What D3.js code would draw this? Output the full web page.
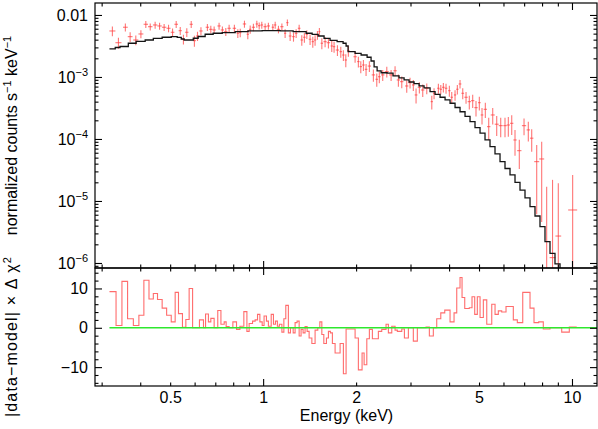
<!DOCTYPE html>
<html lang="en">
<head>
<meta charset="utf-8">
<title>spectrum fit</title>
<script src="https://d3js.org/d3.v7.min.js"></script>
<style>
  body { margin: 0; background: #fff; }
  text { font-family: "Liberation Sans", Arial, Helvetica, sans-serif; fill: #000; }
</style>
</head>
<body>
<script>

// data points (keV, counts/s/keV, 1-sigma error)
var dataE = [0.325,0.340,0.358,0.371,0.387,0.402,0.417,0.431,0.447,0.462,
  0.478,0.494,0.509,0.523,0.539,0.552,0.566,0.585,0.599,0.613,
  0.629,0.660,0.677,0.694,0.720,0.738,0.757,0.776,0.807,0.828,
  0.843,0.870,0.892,0.908,0.930,0.954,0.971,0.990,1.015,1.040,
  1.075,1.094,1.121,1.150,1.178,1.198,1.223,1.254,1.279,1.308,
  1.334,1.360,1.385,1.419,1.448,1.473,1.499,1.521,1.549,1.587,
  1.627,1.668,1.697,1.740,1.784,1.819,1.852,1.888,1.985,2.034,
  2.071,2.112,2.154,2.208,2.275,2.333,2.378,2.439,2.514,2.596,
  2.674,2.741,2.811,2.917,2.990,3.064,3.127,3.205,3.287,3.387,
  3.516,3.576,3.693,3.760,3.833,3.910,4.008,4.080,4.182,4.254,
  4.340,4.429,4.539,4.651,4.770,4.889,5.012,5.113,5.241,5.375,
  5.538,5.705,5.878,6.069,6.221,6.381,6.539,6.752,6.994,7.221,
  7.406,7.687,7.978,8.28,8.65,9.03,10.05];

var dataY = [5.52e-3,3.57e-3,6.34e-3,4.47e-3,3.95e-3,4.94e-3,7.08e-3,6.47e-3,6.90e-3,6.65e-3,
  6.34e-3,6.10e-3,5.26e-3,7.08e-3,5.58e-3,4.06e-3,5.26e-3,7.08e-3,3.85e-3,4.58e-3,
  5.52e-3,6.34e-3,5.87e-3,5.73e-3,6.65e-3,5.73e-3,5.38e-3,6.10e-3,6.10e-3,5.07e-3,
  5.19e-3,7.16e-3,4.89e-3,5.87e-3,6.34e-3,7.16e-3,6.72e-3,6.90e-3,6.47e-3,6.65e-3,
  6.34e-3,6.90e-3,5.87e-3,6.47e-3,5.07e-3,7.52e-3,4.58e-3,4.47e-3,5.07e-3,6.10e-3,
  3.95e-3,4.37e-3,4.89e-3,4.06e-3,3.71e-3,3.95e-3,4.76e-3,5.38e-3,3.50e-3,3.71e-3,
  3.57e-3,3.16e-3,3.08e-3,2.72e-3,2.56e-3,2.26e-3,1.88e-3,2.65e-3,2.12e-3,1.77e-3,
  1.47e-3,1.56e-3,1.33e-3,1.50e-3,1.08e-3,9.18e-4,1.01e-3,1.08e-3,1.22e-3,1.08e-3,
  1.26e-3,8.95e-4,8.40e-4,7.16e-4,8.09e-4,7.43e-4,5.13e-4,6.82e-4,6.17e-4,6.58e-4,
  4.00e-4,5.46e-4,6.58e-4,6.34e-4,6.82e-4,6.58e-4,6.01e-4,4.71e-4,5.13e-4,6.34e-4,
  7.71e-4,5.46e-4,4.71e-4,4.00e-4,4.15e-4,3.20e-4,3.85e-4,2.44e-4,3.01e-4,1.58e-4,
  2.44e-4,1.73e-4,1.64e-4,1.64e-4,1.68e-4,1.79e-4,9.64e-5,6.48e-5,1.64e-4,1.40e-4,
  1.03e-4,4.31e-5,4.76e-5,5.0e-7,1.22e-6,2.72e-6,7.16e-6];

var dataErr = [9.9e-4,7.1e-4,9.5e-4,8.0e-4,7.1e-4,7.4e-4,9.2e-4,8.4e-4,9.0e-4,8.6e-4,
  8.2e-4,8.5e-4,7.9e-4,9.2e-4,8.4e-4,7.3e-4,8.4e-4,9.2e-4,7.7e-4,7.8e-4,
  8.3e-4,8.2e-4,8.2e-4,8.0e-4,8.6e-4,8.0e-4,8.1e-4,8.5e-4,8.5e-4,8.1e-4,
  8.3e-4,9.3e-4,8.3e-4,8.8e-4,8.9e-4,9.3e-4,8.7e-4,9.0e-4,8.4e-4,8.6e-4,
  8.2e-4,9.0e-4,8.2e-4,8.4e-4,8.1e-4,9.0e-4,7.8e-4,7.6e-4,8.1e-4,8.5e-4,
  7.5e-4,7.9e-4,7.8e-4,7.7e-4,7.4e-4,7.5e-4,7.6e-4,8.1e-4,7.0e-4,7.0e-4,
  6.8e-4,6.3e-4,6.2e-4,5.4e-4,5.1e-4,4.5e-4,4.5e-4,5.3e-4,4.2e-4,3.5e-4,
  3.2e-4,3.1e-4,2.9e-4,3.0e-4,2.4e-4,2.2e-4,2.2e-4,2.2e-4,2.4e-4,2.2e-4,
  2.3e-4,2.0e-4,1.8e-4,1.6e-4,1.6e-4,1.5e-4,1.4e-4,1.4e-4,1.4e-4,1.3e-4,
  1.0e-4,1.1e-4,1.2e-4,1.1e-4,1.2e-4,1.2e-4,1.2e-4,1.0e-4,1.0e-4,1.1e-4,
  1.2e-4,1.1e-4,1.0e-4,1.0e-4,1.0e-4,9.0e-5,9.6e-5,7.3e-5,8.4e-5,6.3e-5,
  7.3e-5,6.1e-5,5.7e-5,5.7e-5,5.9e-5,6.3e-5,4.3e-5,3.2e-5,4.9e-5,4.9e-5,
  4.1e-5,3.7e-5,4.3e-5,1.65e-5,2.07e-5,1.66e-5,1.91e-5];

// folded model (step)
var modelE = [0.318,0.332,0.344,0.366,0.388,0.415,0.441,0.471,0.504,0.527,
  0.543,0.555,0.576,0.594,0.616,0.649,0.689,0.737,0.812,0.894,
  0.993,1.135,1.251,1.378,1.441,1.507,1.575,1.647,1.736,1.815,
  1.856,1.884,1.985,2.076,2.171,2.236,2.287,2.339,2.410,2.520,
  2.634,2.755,2.860,2.968,3.081,3.198,3.319,3.471,3.603,3.740,
  3.882,4.029,4.182,4.340,4.505,4.676,4.853,5.038,5.229,5.427,
  5.633,5.848,6.069,6.300,6.539,6.787,7.045,7.313,7.590,7.878,
  8.177,8.488,8.810,9.146];
var modelY = [2.83e-3,2.99e-3,3.10e-3,3.50e-3,3.74e-3,3.95e-3,4.18e-3,4.37e-3,4.47e-3,4.34e-3,
  4.10e-3,3.95e-3,3.95e-3,4.21e-3,4.50e-3,4.89e-3,5.07e-3,5.19e-3,5.38e-3,5.52e-3,
  5.58e-3,5.52e-3,5.38e-3,5.07e-3,4.85e-3,4.58e-3,4.18e-3,3.88e-3,3.71e-3,3.50e-3,
  3.16e-3,2.56e-3,2.41e-3,2.26e-3,2.08e-3,1.81e-3,1.45e-3,1.25e-3,1.17e-3,1.15e-3,
  1.04e-3,9.64e-4,8.95e-4,8.30e-4,7.80e-4,7.16e-4,6.65e-4,5.80e-4,5.26e-4,4.71e-4,
  4.26e-4,3.77e-4,3.22e-4,2.75e-4,2.31e-4,1.90e-4,1.53e-4,1.24e-4,9.64e-5,7.52e-5,
  5.73e-5,4.31e-5,3.34e-5,2.63e-5,1.99e-5,1.50e-5,1.12e-5,8.09e-6,5.73e-6,3.85e-6,
  2.21e-6,1.43e-6,9.64e-7,7.16e-7];

// residual bins: lower edges (+ last upper edge) and values
var resE = [0.318,0.334,0.349,0.364,0.380,0.396,0.411,0.427,0.441,0.455,
  0.471,0.487,0.504,0.519,0.532,0.548,0.562,0.576,0.591,0.622,
  0.641,0.651,0.665,0.677,0.694,0.713,0.730,0.748,0.759,0.776,
  0.798,0.820,0.841,0.866,0.886,0.901,0.924,0.942,0.959,0.976,
  0.993,1.007,1.025,1.040,1.062,1.080,1.096,1.112,1.129,1.150,
  1.167,1.184,1.207,1.226,1.251,1.269,1.288,1.308,1.327,1.347,
  1.367,1.388,1.409,1.438,1.473,1.503,1.526,1.549,1.572,1.603,
  1.627,1.651,1.676,1.710,1.775,1.819,1.856,1.985,2.034,2.091,
  2.123,2.166,2.208,2.258,2.361,2.421,2.500,2.544,2.609,2.674,
  2.720,2.811,2.867,2.953,3.064,3.157,3.369,3.453,3.557,3.648,
  3.760,3.873,4.029,4.151,4.235,4.340,4.406,4.495,4.651,4.746,
  4.842,4.937,5.039,5.164,5.297,5.498,5.635,5.774,5.922,6.115,
  6.457,6.653,6.927,7.313,7.534,7.802,8.074,8.488,9.262,9.802,
  10.36];
var resY = [9.2,0.6,11.8,2.3,0.6,3.2,12.1,7.3,8.7,7.2,
  5.0,3.2,1.5,9.0,3.6,0.1,2.1,10.0,0,2.0,
  0,3.5,1.5,2.4,0,4.4,0.9,1.5,0.3,0,
  1.5,-0.4,0.4,4.1,-0.9,1.1,1.7,2.0,3.4,1.5,
  0.6,3.0,1.7,0.4,3.4,0.9,1.7,0.4,0.9,-1.1,
  2.3,5.7,-1.3,0,-1.3,1.3,1.7,-2.1,-0.4,-1.3,
  0.3,-0.9,-2.6,-4.0,-0.6,0,1.5,-1.7,-4.0,-2.6,
  -0.9,-1.3,-4.0,-6.4,-4.0,-11.7,-0.3,-2.6,-10.7,-6.4,
  -9.4,-2.8,-0.4,-2.8,-0.9,-0.4,0.9,-1.3,0.4,-0.6,
  -0.9,-0.3,-2.6,0,-3.4,0,0.2,-2.1,0,2.3,
  3.8,4.5,1.5,3.8,10.1,12.8,7.7,4.9,5.1,7.9,
  3.4,7.9,2.6,7.1,0.9,6.0,3.4,4.3,4.0,5.4,
  2.0,1.3,9.0,5.0,1.3,1.5,-0.3,0,-1.1,0.2];

var xLabelVals = [0.5, 1, 2, 5, 10];
var xMajor = [1, 10];
var xMinor = [0.3,0.4,0.5,0.6,0.7,0.8,0.9,2,3,4,5,6,7,8,9];
var yTopTicks = [1e-2, 1e-3, 1e-4, 1e-5, 1e-6];
var yTopExp = ["", "\u22123", "\u22124", "\u22125", "\u22126"];
var yResMajor = [-10, 0, 10];
var yResMinor = [-14,-12,-8,-6,-4,-2,2,4,6,8,12,14];


var width = 598, height = 429;
var L = 95, R = 597, T = 3, M = 268, B = 386;

var svg = d3.select("body").append("svg")
  .attr("width", width)
  .attr("height", height);

var x = d3.scaleLog().domain([0.2855, 12.05]).range([L, R]);
var yTop = d3.scaleLog().domain([8.3e-7, 0.0156]).range([M, T]);
var yRes = d3.scaleLinear().domain([-14.8, 15.2]).range([B, M]);
var yMin = yTop.domain()[0];

var defs = svg.append("defs");
defs.append("clipPath").attr("id", "cTop").append("rect")
  .attr("x", L).attr("y", T).attr("width", R - L).attr("height", M - T);
defs.append("clipPath").attr("id", "cRes").append("rect")
  .attr("x", L).attr("y", M).attr("width", R - L).attr("height", B - M);

// ---- top panel: data crosses
var gData = svg.append("g").attr("clip-path", "url(#cTop)")
  .attr("stroke", "#ff3b3b").attr("stroke-opacity", 0.7).attr("stroke-width", 1.1);

var maxHalf = 4.5 / (x(10) - x(1)); // cap in decades for isolated bins
dataE.forEach(function(e, i) {
  var hl = i > 0 ? Math.log10(e / dataE[i - 1]) / 2 : null;
  var hr = i < dataE.length - 1 ? Math.log10(dataE[i + 1] / e) / 2 : null;
  var h = hl == null ? hr : (hr == null ? hl : Math.min(hl, hr));
  h = Math.min(h, maxHalf);
  var v = dataY[i], s = dataErr[i];
  gData.append("line")
    .attr("x1", x(e / Math.pow(10, h))).attr("x2", x(e * Math.pow(10, h)))
    .attr("y1", yTop(Math.max(v, yMin * 0.5))).attr("y2", yTop(Math.max(v, yMin * 0.5)));
  gData.append("line")
    .attr("x1", x(e)).attr("x2", x(e))
    .attr("y1", yTop(v + s)).attr("y2", yTop(Math.max(v - s, yMin * 0.5)));
});

// ---- top panel: model step
var modelPts = modelE.map(function(e, i) { return [e, modelY[i]]; });
svg.append("path")
  .datum(modelPts)
  .attr("clip-path", "url(#cTop)")
  .attr("fill", "none")
  .attr("stroke", "#151515")
  .attr("stroke-width", 1.3)
  .attr("d", d3.line()
    .x(function(d) { return x(d[0]); })
    .y(function(d) { return yTop(d[1]); })
    .curve(d3.curveStepAfter));

// ---- bottom panel: residual step + zero line
var resPts = resY.map(function(r, i) { return [resE[i], r]; });
resPts.push([resE[resE.length - 1], resY[resY.length - 1]]);
svg.append("path")
  .datum(resPts)
  .attr("clip-path", "url(#cRes)")
  .attr("fill", "none")
  .attr("stroke", "#ff3b3b")
  .attr("stroke-opacity", 0.75)
  .attr("stroke-width", 1.1)
  .attr("d", d3.line()
    .x(function(d) { return x(d[0]); })
    .y(function(d) { return yRes(d[1]); })
    .curve(d3.curveStepAfter));

svg.append("line")
  .attr("x1", x(resE[0])).attr("x2", R)
  .attr("y1", yRes(0)).attr("y2", yRes(0))
  .attr("stroke", "#2ee82e").attr("stroke-width", 1.6);

// ---- frames
svg.append("rect").attr("x", L).attr("y", T).attr("width", R - L).attr("height", M - T)
  .attr("fill", "none").attr("stroke", "#000").attr("stroke-width", 1.2);
svg.append("rect").attr("x", L).attr("y", M).attr("width", R - L).attr("height", B - M)
  .attr("fill", "none").attr("stroke", "#000").attr("stroke-width", 1.2);

// ---- ticks (all pointing inward)
function tickAxis(axis, tx, ty, vals, len) {
  svg.append("g")
    .attr("transform", "translate(" + tx + "," + ty + ")")
    .call(axis.tickValues(vals).tickSize(-len).tickFormat(""))
    .call(function(g) { g.select(".domain").remove(); })
    .selectAll("line").attr("stroke", "#000").attr("stroke-width", 1.1);
}
[[d3.axisTop, T], [d3.axisBottom, M], [d3.axisTop, M], [d3.axisBottom, B]].forEach(function(a) {
  tickAxis(a[0](x), 0, a[1], xMajor, 7);
  tickAxis(a[0](x), 0, a[1], xMinor, 3.5);
});

var yTopMinor = [];
[-7, -6, -5, -4, -3, -2].forEach(function(p) {
  for (var k = 2; k < 10; k++) {
    var v = k * Math.pow(10, p);
    if (v > yMin && v < yTop.domain()[1]) yTopMinor.push(v);
  }
});
tickAxis(d3.axisLeft(yTop), L, 0, yTopTicks, 7);
tickAxis(d3.axisLeft(yTop), L, 0, yTopMinor, 3.5);
tickAxis(d3.axisRight(yTop), R, 0, yTopTicks, 7);
tickAxis(d3.axisRight(yTop), R, 0, yTopMinor, 3.5);
tickAxis(d3.axisLeft(yRes), L, 0, yResMajor, 7);
tickAxis(d3.axisLeft(yRes), L, 0, yResMinor, 3.5);
tickAxis(d3.axisRight(yRes), R, 0, yResMajor, 7);
tickAxis(d3.axisRight(yRes), R, 0, yResMinor, 3.5);

// ---- tick labels
svg.append("g")
  .attr("transform", "translate(0," + B + ")")
  .call(d3.axisBottom(x).tickValues(xLabelVals).tickSize(0).tickPadding(6)
    .tickFormat(function(d) { return String(d); }))
  .call(function(g) { g.select(".domain").remove(); })
  .selectAll("text").attr("font-size", 16).attr("font-family", null);

svg.append("g")
  .attr("transform", "translate(" + L + ",0)")
  .call(d3.axisLeft(yRes).tickValues(yResMajor).tickSize(0).tickPadding(7)
    .tickFormat(function(d) { return d < 0 ? "\u2212" + (-d) : String(d); }))
  .call(function(g) { g.select(".domain").remove(); })
  .selectAll("text").attr("font-size", 16).attr("font-family", null);

var gLab = svg.append("g").attr("font-size", 16).attr("text-anchor", "end");
yTopTicks.forEach(function(v, i) {
  var t = gLab.append("text").attr("x", L - 7).attr("y", yTop(v)).attr("dy", "0.36em");
  if (yTopExp[i] === "") {
    t.text("0.01");
  } else {
    t.append("tspan").text("10");
    t.append("tspan").attr("font-size", 11).attr("dy", -7).text(yTopExp[i]);
  }
});

// ---- axis titles
svg.append("text")
  .attr("x", (L + R) / 2 + 0.5).attr("y", 421)
  .attr("text-anchor", "middle").attr("font-size", 16)
  .text("Energy (keV)");

var t1 = svg.append("text")
  .attr("transform", "translate(17," + ((T + M) / 2) + ") rotate(-90)")
  .attr("text-anchor", "middle").attr("font-size", 16);
t1.append("tspan").text("normalized counts s");
t1.append("tspan").attr("font-size", 11).attr("dy", -6).text("\u22121");
t1.append("tspan").attr("dy", 6).text(" keV");
t1.append("tspan").attr("font-size", 11).attr("dy", -6).text("\u22121");

var t2 = svg.append("text")
  .attr("transform", "translate(17," + 337 + ") rotate(-90)")
  .attr("text-anchor", "middle").attr("font-size", 16)
  .attr("textLength", 160).attr("lengthAdjust", "spacing");
t2.append("tspan").text("|data\u2212model| \u00d7 \u0394 \u03c7");
t2.append("tspan").attr("font-size", 11).attr("dy", -6).text("2");

</script>
</body>
</html>
